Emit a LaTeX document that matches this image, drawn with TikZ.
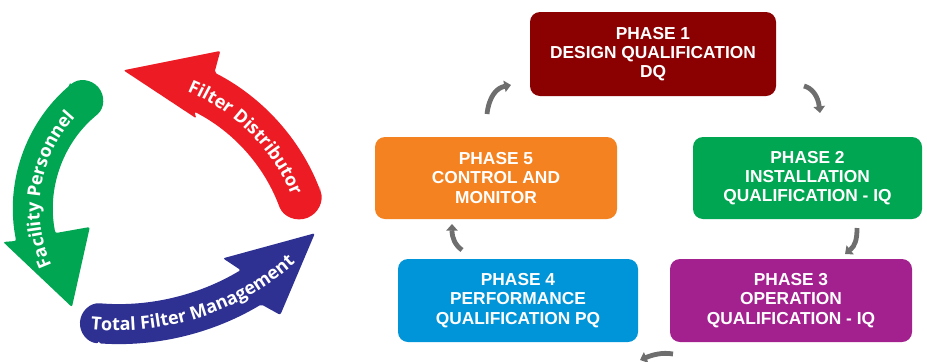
\documentclass[tikz,border=0pt]{standalone}
\usepackage{fontspec}
\setmainfont{Liberation Sans}
\IfFontExistsTF{Open Sans SemiBold}
  {\newfontfamily\arcfont{Open Sans SemiBold}}
  {\newfontfamily\arcfontbase{Open Sans}\newcommand\arcfont{\arcfontbase\bfseries}}
\usetikzlibrary{decorations.text,arrows.meta}

\definecolor{phaseone}{HTML}{8B0000}
\definecolor{phasetwo}{HTML}{00A651}
\definecolor{phasethree}{HTML}{A3218E}
\definecolor{phasefour}{HTML}{0095D9}
\definecolor{phasefive}{HTML}{F58220}
\definecolor{cyclered}{HTML}{ED1C24}
\definecolor{cyclegreen}{HTML}{00A651}
\definecolor{cycleblue}{HTML}{2E3192}
\definecolor{linkgray}{HTML}{6E6E6E}

\begin{document}
\begin{tikzpicture}[x=0.75pt,y=-0.75pt,
  phase/.style={rounded corners=7.5pt, text=white, align=center, inner sep=0pt,
    font=\bfseries\fontsize{13}{14.5}\selectfont},
  link/.style={draw=linkgray, line width=3.6pt, -{Triangle[length=5pt,width=8.5pt]}},
  band/.style={rounded corners=1.5pt}
]
\useasboundingbox (0,0) rectangle (927,361);

% ---------- three-party cycle (left) ----------
% red: Filter Distributor, centre (113,270), mid radius 200
\fill[cyclered, band]
  ([shift={(113,270)}]-21.3:222) arc[start angle=-21.3, end angle=-62.8, radius=222]
  -- ([shift={(113,270)}]-63.9:244)
  -- ([shift={(113,270)}]-87:200)
  -- ([shift={(113,270)}]-61.2:173)
  -- ([shift={(113,270)}]-62.8:178)
  arc[start angle=-62.8, end angle=-21.3, radius=178]
  arc[start angle=158.7, end angle=-21.3, radius=22] -- cycle;

% green: Facility Personnel, centre (176,209), mid radius 143
\fill[cyclegreen, band]
  ([shift={(176,209)}]229.5:163) arc[start angle=229.5, end angle=168.7, radius=163]
  -- ([shift={(176,209)}]169.2:176)
  -- ([shift={(176,209)}]136.7:143)
  -- ([shift={(176,209)}]168.2:88)
  -- ([shift={(176,209)}]168.7:123)
  arc[start angle=168.7, end angle=229.5, radius=123]
  arc[start angle=49.5, end angle=-130.5, radius=20] -- cycle;

% blue: Total Filter Management, centre (118,65), mid radius 259
\fill[cycleblue, band]
  ([shift={(118,65)}]94:279) arc[start angle=94, end angle=59.1, radius=279]
  -- ([shift={(118,65)}]57:298)
  -- ([shift={(118,65)}]40.5:259)
  -- ([shift={(118,65)}]61.5:220)
  -- ([shift={(118,65)}]59.1:239)
  arc[start angle=59.1, end angle=94, radius=239]
  arc[start angle=274, end angle=94, radius=20] -- cycle;

% labels along the bands
\path[decorate, decoration={text along path, text align=center, text color=white,
    text={|\arcfont\fontsize{13.5}{15}\selectfont|Filter Distributor}}]
  ([shift={(113,270)}]-95:193.5) arc[start angle=-95, end angle=5, radius=193.5];
\path[decorate, decoration={text along path, text align=center, text color=white,
    text={|\arcfont\fontsize{13.5}{15}\selectfont|Facility Personnel}}]
  ([shift={(176,209)}]140:136.5) arc[start angle=140, end angle=238, radius=136.5];
\path[decorate, decoration={text along path, text align=center, text color=white,
    text={|\arcfont\fontsize{13.5}{15}\selectfont|Total Filter Management}}]
  ([shift={(118,65)}]105:265.5) arc[start angle=105, end angle=39, radius=265.5];

% ---------- qualification phases (right) ----------
\node[phase, fill=phaseone, minimum width=184.5pt, minimum height=63pt] (p1) at (653,54)
  {PHASE 1\\DESIGN QUALIFICATION\\DQ};
\node[phase, fill=phasetwo, minimum width=171.75pt, minimum height=61.5pt] (p2) at (807.5,178)
  {PHASE 2\\INSTALLATION\\QUALIFICATION - IQ};
\node[phase, fill=phasethree, minimum width=181.5pt, minimum height=62.25pt] (p3) at (791,300.5)
  {PHASE 3\\OPERATION\\QUALIFICATION - IQ};
\node[phase, fill=phasefour, minimum width=180pt, minimum height=62.25pt] (p4) at (518,300.5)
  {PHASE 4\\PERFORMANCE\\QUALIFICATION PQ};
\node[phase, fill=phasefive, minimum width=181.5pt, minimum height=61.5pt] (p5) at (496,178)
  {PHASE 5\\CONTROL AND\\MONITOR};

% short curved links between the phases
\coordinate (l51a) at (487,114); \coordinate (l51b) at (511,85);
\coordinate (l12a) at (804,86);  \coordinate (l12b) at (820,113);
\coordinate (l23a) at (857,228); \coordinate (l23b) at (845,254);
\coordinate (l34a) at (673,354); \coordinate (l34b) at (640,360);
\coordinate (l45a) at (462,250); \coordinate (l45b) at (452,224);

\draw[link] (l51a) .. controls (489,97) and (496,88) .. (l51b);
\draw[link] (l12a) .. controls (812,88) and (818,96) .. (l12b);
\draw[link] (l23a) .. controls (857,240) and (855,246) .. (l23b);
\draw[link] (l34a) .. controls (662,352) and (652,355) .. (l34b);
\draw[link] (l45a) .. controls (455,245) and (452,238) .. (l45b);
\end{tikzpicture}
\end{document}
